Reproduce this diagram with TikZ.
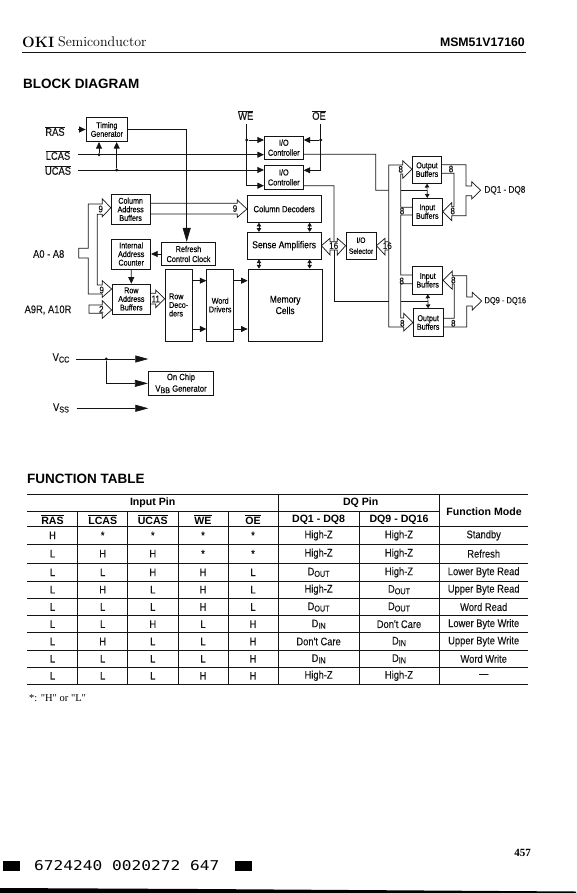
\documentclass[tikz,border=0pt]{standalone}
\usepackage{fontspec}
\usepackage{xcolor}
\usetikzlibrary{arrows.meta}
\newfontfamily\nsans[FakeStretch=0.85,FakeBold=0.15]{Liberation Sans}
\newfontfamily\hsans{Liberation Sans}
\newfontfamily\tserif{Liberation Serif}
\newfontfamily\barfont[FakeStretch=1.2]{DejaVu Sans Mono}
\definecolor{cInk}{RGB}{20,20,20}
\newcommand{\ovl}[1]{$\overline{\mbox{#1}}$}
\newcommand{\lowsub}[1]{\raisebox{-1.5pt}{\fontsize{8.5}{9}\selectfont #1}}
\newcommand{\stx}{\raisebox{-2.5pt}{*}}
\tikzset{
  blk/.style={draw=cInk,line width=0.8pt,inner sep=0pt,align=center,font=\nsans\fontsize{8.4}{8.6}\selectfont},
  blkb/.style={blk,font=\nsans\fontsize{9}{11}\selectfont},
  lab/.style={inner sep=0pt,text=cInk,font=\nsans\fontsize{11}{12}\selectfont},
  num/.style={inner sep=0pt,text=cInk,font=\nsans\fontsize{9.5}{10}\selectfont},
  wire/.style={draw=cInk,line width=0.7pt},
  bus/.style={draw=cInk,line width=0.7pt,line join=miter},
  sarr/.style={wire,-{Triangle[length=6.5pt,width=6pt]}},
  larr/.style={wire,-{Triangle[length=13pt,width=7pt]}},
  bigarr/.style={wire,-{Triangle[length=14pt,width=8pt]}},
  dbl/.style={wire,{Triangle[length=3.8pt,width=4.5pt]}-{Triangle[length=3.8pt,width=4.5pt]}},
  dot/.style={circle,fill=cInk,inner sep=0pt,minimum size=3.2pt},
  head/.style={inner sep=0pt,text=black,font=\hsans\bfseries\fontsize{13.5}{14}\selectfont},
  hcell/.style={inner sep=0pt,text=black,font=\hsans\bfseries\fontsize{10.6}{12}\selectfont},
  cell/.style={inner sep=0pt,text=cInk,font=\nsans\fontsize{11}{12}\selectfont},
  grid/.style={draw=cInk,line width=0.8pt}
}
\begin{document}
\begin{tikzpicture}[x=1pt,y=-1pt]
\useasboundingbox (0,0) rectangle (576,893);
\node[anchor=west,inner sep=0pt,font=\bfseries\fontsize{15}{15}\selectfont] (oki) at (22,42) {OKI};
\node[anchor=west,inner sep=0pt,font=\fontsize{14}{15}\selectfont] (semi) at (58,42) {Semiconductor};
\node[head,anchor=east,font=\hsans\bfseries\fontsize{12.3}{14}\selectfont] (part) at (525,42) {MSM51V17160};
\draw[grid] (22,52) -- (526,52);
\node[head,anchor=west] (blockt) at (23,84) {BLOCK DIAGRAM};

\node[blk,minimum width=41.7pt,minimum height=24.4pt] (tg) at (106.85,129.5) {Timing\\Generator};
\node[blk,minimum width=38.7pt,minimum height=30pt] (colbuf) at (130.65,209.3) {Column\\Address\\Buffers};
\node[blk,minimum width=39pt,minimum height=30pt] (cntr) at (131.2,254) {Internal\\Address\\Counter};
\node[blk,minimum width=53.6pt,minimum height=23.4pt,font=\nsans\fontsize{8.6}{10}\selectfont] (rcc) at (188.5,254) {Refresh\\Control Clock};
\node[blk,minimum width=38.7pt,minimum height=30pt] (rowbuf) at (131.35,299) {Row\\Address\\Buffers};
\node[blk,minimum width=27.3pt,minimum height=72pt,align=left] (rowdec) at (178.65,305) {Row\\Deco-\\ders};
\node[blk,minimum width=27pt,minimum height=72pt] (wdrv) at (220.2,305) {Word\\Drivers};
\node[blkb,minimum width=73.7pt,minimum height=26.6pt] (coldec) at (284.15,209) {Column Decoders};
\node[blk,minimum width=73.7pt,minimum height=26.7pt,font=\nsans\fontsize{10}{11}\selectfont] (sense) at (284.15,245.65) {Sense Amplifiers};
\node[blk,minimum width=74.3pt,minimum height=72pt,font=\nsans\fontsize{10}{11.3}\selectfont] (mem) at (285.15,305) {Memory\\Cells};
\node[blk,minimum width=39pt,minimum height=23.3pt,font=\nsans\fontsize{8.6}{10}\selectfont] (ioa) at (283.8,147.65) {I/O\\Controller};
\node[blk,minimum width=39pt,minimum height=23.3pt,font=\nsans\fontsize{8.6}{10}\selectfont] (iob) at (283.8,177.35) {I/O\\Controller};
\node[blk,minimum width=30pt,minimum height=26.7pt,font=\nsans\fontsize{7.8}{11}\selectfont] (iosel) at (361,245.65) {I/O\\Selector};
\node[blk,minimum width=29.4pt,minimum height=27.3pt] (outa) at (427,169.65) {Output\\Buffers};
\node[blk,minimum width=30pt,minimum height=26.7pt] (ina) at (427.3,211.65) {Input\\Buffers};
\node[blk,minimum width=30pt,minimum height=27.3pt] (inb) at (427.7,280.35) {Input\\Buffers};
\node[blk,minimum width=29.7pt,minimum height=27.6pt] (outb) at (428.15,322.5) {Output\\Buffers};
\node[blkb,minimum width=65.4pt,minimum height=23.3pt,font=\nsans\fontsize{9}{11.6}\selectfont] (vbb) at (181,383.35) {On Chip\\V\lowsub{BB} Generator};

\node[lab] (rasl) at (55,131) {\ovl{RAS}};
\node[lab] (lcasl) at (58,155) {\ovl{LCAS}};
\node[lab] (ucasl) at (58,170) {\ovl{UCAS}};
\node[lab] (wel) at (245.7,115) {\ovl{WE}};
\node[lab] (oel) at (319,115) {\ovl{OE}};
\node[lab] (a0l) at (48.7,254) {A0 - A8};
\node[lab] (a9l) at (48,310) {A9R, A10R};
\node[lab] (vccl) at (61,358) {V\lowsub{CC}};
\node[lab] (vssl) at (61,408) {V\lowsub{SS}};
\node[lab,anchor=west,font=\nsans\fontsize{9.6}{12}\selectfont] (dqal) at (484.3,190.3) {DQ1 - DQ8};
\node[lab,anchor=west,font=\nsans\fontsize{8.8}{12}\selectfont] (dqbl) at (484.3,301) {DQ9 - DQ16};

\coordinate (rasin) at (78,129.5);
\coordinate (lcasin) at (78,154.7);
\coordinate (ucasin) at (78,170);
\coordinate (tgdn) at (186.7,129.5);
\coordinate (wetop) at (246.7,124);
\coordinate (webot) at (246.7,185.7);
\coordinate (oetop) at (320.7,124);
\coordinate (oebot) at (320.7,170.3);
\node[dot] (jl) at (99,154.7) {};
\node[dot] (ju) at (116.7,170) {};
\node[dot] (jwe) at (246.7,140) {};
\node[dot] (joe) at (320.7,140) {};
\draw[sarr] (rasin) -- (tg.west);
\draw[sarr] (lcasin) -- (lcasin -| ioa.west);
\draw[sarr] (ucasin) -- (ucasin -| iob.west);
\draw[sarr] (jl) -- (jl |- tg.south);
\draw[sarr] (ju) -- (ju |- tg.south);
\draw[wire] (tg.east) -- (tgdn);
\draw[bigarr] (tgdn) -- (tgdn |- rcc.north);
\draw[sarr] (rcc.west) -- (cntr.east);
\draw[sarr] (cntr.south) -- (rowbuf.north);
\draw[wire] (wetop) -- (webot);
\draw[sarr] (jwe) -- (jwe -| ioa.west);
\draw[sarr] (webot) -- (webot -| iob.west);
\draw[wire] (oetop) -- (oebot);
\draw[sarr] (joe) -- (joe -| ioa.east);
\draw[sarr] (oebot) -- (oebot -| iob.east);

\draw[sarr] ([yshift=24.3pt]rowdec.east) -- ([yshift=24.3pt]wdrv.west);
\draw[sarr] ([yshift=-24pt]rowdec.east) -- ([yshift=-24pt]wdrv.west);
\draw[sarr] ([yshift=24.3pt]wdrv.east) -- ([yshift=24.3pt]mem.west);
\draw[sarr] ([yshift=-24pt]wdrv.east) -- ([yshift=-24pt]mem.west);
\draw[dbl] ([xshift=-25.2pt]coldec.south) -- ([xshift=-25.2pt]sense.north);
\draw[dbl] ([xshift=25.5pt]coldec.south) -- ([xshift=25.5pt]sense.north);
\draw[dbl] ([xshift=-25.2pt]sense.south) -- ([xshift=-26.2pt]mem.north);
\draw[dbl] ([xshift=25.5pt]sense.south) -- ([xshift=24.5pt]mem.north);
\draw[dbl] (outa.south) -- (ina.north);
\draw[dbl] (inb.south) -- (outb.north);

\draw[bus] ([yshift=6pt]colbuf.east) -- (237.3,203.3) -- (237.3,200) -- (coldec.west) -- (237.3,217.3) -- (237.3,214) -- ([yshift=-4.7pt]colbuf.east);
\draw[bus] (78.7,248.3) -- (88.3,248.3) -- (88.3,204) -- (102.3,204) -- (102.3,199) -- ([yshift=1.6pt]colbuf.west) -- (102.3,216.7) -- (102.3,214.3) -- (97.3,214.3) -- (97.3,285) -- (102.3,285) -- (102.3,280.7) -- ([yshift=10pt]rowbuf.west) -- (102.3,297.3) -- (102.3,294) -- (88.3,294) -- (88.3,258) -- (78.7,258) -- cycle;
\draw[bus] (89,305) -- (102.3,305) -- (102.3,300.7) -- ([yshift=-11pt]rowbuf.west) -- (102.3,318.3) -- (102.3,313.3) -- (89,313.3) -- cycle;
\draw[bus] ([yshift=5.7pt]rowbuf.east) -- (155.7,293.3) -- (155.7,290) -- ([yshift=6.3pt]rowdec.west) -- (155.7,307.7) -- (155.7,304) -- ([yshift=-5pt]rowbuf.east);
\draw[bus] (sense.east) -- (330,238.3) -- (330,241.7) -- (337.3,241.7) -- (337.3,238.3) -- (iosel.west) -- (337.3,255) -- (337.3,250) -- (330,250) -- (330,255) -- cycle;
\draw[bus] (388.7,241.7) -- (385,241.7) -- (385,238.3) -- (iosel.east) -- (385,255) -- (385,250) -- (388.7,250);
\draw[bus] ([yshift=0.4pt]outa.west) -- (402.7,160.7) -- (402.7,165) -- (388.7,165) -- (388.7,327) -- (403.7,327) -- (403.7,331) -- (outb.west) -- (403.7,313.3) -- (403.7,318) -- (400.7,318) -- (400.7,283.7) -- ([yshift=-3.3pt]inb.west);
\draw[bus] ([yshift=5.3pt]inb.west) -- (400.7,275) -- (400.7,215) -- ([yshift=-3.3pt]ina.west);
\draw[bus] ([yshift=4.3pt]ina.west) -- (400.7,207.3) -- (400.7,174) -- (402.7,174) -- (402.7,178.3) -- ([yshift=0.4pt]outa.west);
\draw[bus] ([yshift=5pt]outa.east) -- (466,164.7) -- (466,186) -- (471.7,186) -- (471.7,181.7) -- (480.7,190.3) -- (471.7,199) -- (471.7,195.7) -- (466,195.7) -- (466,215.7) -- (451.7,215.7) -- (451.7,220.7) -- (ina.east) -- (451.7,202.7) -- (451.7,206.7) -- (454,206.7) -- (454,173.3) -- ([yshift=-3.6pt]outa.east);
\draw[bus] ([yshift=-4.5pt]outb.east) -- (466.7,327) -- (466.7,306) -- (472.3,306) -- (472.3,310) -- (481.7,301) -- (472.3,292.3) -- (472.3,297) -- (466.7,297) -- (466.7,275.7) -- (452.3,275.7) -- (452.3,271) -- (inb.east) -- (452.3,289.3) -- (452.3,284) -- (454.3,284) -- (454.3,318.3) -- ([yshift=4.2pt]outb.east);

\draw[wire] ([yshift=-6.6pt]ioa.east) -- (375.7,154.3) -- (375.7,190.3) -- (388.7,190.3);
\draw[wire] (400.7,190.3) -- (426.7,190.3);
\draw[wire] ([yshift=-8.3pt]iob.east) -- (334,185.7) -- (334,241.7);
\draw[wire] (334,250) -- (334,301) -- (388.7,301);
\draw[wire] (400.7,301) -- (427.7,301);

\node[num] (n9a) at (100.7,209) {9};
\node[num] (n9b) at (235,208.5) {9};
\node[num] (n9c) at (101.7,290) {9};
\node[num] (n2) at (101.3,309.3) {2};
\node[num] (n11) at (155.7,299) {11};
\node[num] (n16a) at (333.7,245.7) {16};
\node[num] (n16b) at (387.3,245.7) {16};
\node[num] (n8a) at (400.7,169.3) {8};
\node[num] (n8b) at (402,211) {8};
\node[num] (n8c) at (401.7,281) {8};
\node[num] (n8d) at (402.3,323.3) {8};
\node[num] (n8e) at (451,169) {8};
\node[num] (n8f) at (452.7,211) {8};
\node[num] (n8g) at (453.3,280) {8};
\node[num] (n8h) at (453.3,323.3) {8};

\coordinate (vccin) at (76,359);
\coordinate (vccout) at (148.3,359);
\coordinate (vssin) at (76.7,408.3);
\coordinate (vssout) at (148.3,408.3);
\node[dot] (jv) at (106.3,359) {};
\draw[larr] (vccin) -- (vccout);
\draw[larr] (vssin) -- (vssout);
\draw[larr] (jv) |- (vbb.west);

\node[head,anchor=west] (funct) at (27,479) {FUNCTION TABLE};
\draw[grid] (27.3,494.3) -- (528,494.3);
\draw[grid] (27.3,511.7) -- (439,511.7);
\foreach \ry in {526.7,544,563,581,598.3,615.7,632.7,650.3,667.3,684.3}
  \draw[grid] (27.3,\ry) -- (528,\ry);
\foreach \cx in {77.7,127.7,178,228}
  \draw[grid] (\cx,511.7) -- (\cx,684.3);
\draw[grid] (278,494.3) -- (278,684.3);
\draw[grid] (359.3,511.7) -- (359.3,684.3);
\draw[grid] (439,494.3) -- (439,684.3);
\node[hcell] (hinp) at (152.7,503) {Input Pin};
\node[hcell] (hdq) at (360.7,503) {DQ Pin};
\node[hcell] (hfm) at (484,512) {Function Mode};
\node[hcell] (hras) at (52.5,519.5) {\ovl{RAS}};
\node[hcell] (hlcas) at (102.7,519.5) {\ovl{LCAS}};
\node[hcell] (hucas) at (152.8,519.5) {\ovl{UCAS}};
\node[hcell] (hwe) at (203,519.5) {\ovl{WE}};
\node[hcell] (hoe) at (253,519.5) {\ovl{OE}};
\node[hcell] (hdqa) at (318.6,519.5) {DQ1 - DQ8};
\node[hcell] (hdqb) at (399,519.5) {DQ9 - DQ16};
\foreach[count=\rn] \rowy/\ras/\lc/\uc/\wen/\oen/\dqa/\dqb/\fnm in {
  535.4/H/\stx/\stx/\stx/\stx/High-Z/High-Z/Standby,
  553.7/L/H/H/\stx/\stx/High-Z/High-Z/Refresh,
  572.3/L/L/H/H/L/D\lowsub{OUT}/High-Z/Lower Byte Read,
  589.7/L/H/L/H/L/High-Z/D\lowsub{OUT}/Upper Byte Read,
  607/L/L/L/H/L/D\lowsub{OUT}/D\lowsub{OUT}/Word Read,
  624.2/L/L/H/L/H/D\lowsub{IN}/Don't Care/Lower Byte Write,
  641.5/L/H/L/L/H/Don't Care/D\lowsub{IN}/Upper Byte Write,
  658.8/L/L/L/L/H/D\lowsub{IN}/D\lowsub{IN}/Word Write,
  675.8/L/L/L/H/H/High-Z/High-Z/\textemdash}{
  \node[cell] (t\rn-a) at (52.5,\rowy) {\ras};
  \node[cell] (t\rn-b) at (102.7,\rowy) {\lc};
  \node[cell] (t\rn-c) at (152.8,\rowy) {\uc};
  \node[cell] (t\rn-d) at (203,\rowy) {\wen};
  \node[cell] (t\rn-e) at (253,\rowy) {\oen};
  \node[cell] (t\rn-f) at (318.6,\rowy) {\dqa};
  \node[cell] (t\rn-g) at (399,\rowy) {\dqb};
  \node[cell] (t\rn-h) at (483.7,\rowy) {\fnm};
}
\node[anchor=west,inner sep=0pt,font=\tserif\fontsize{10.5}{12}\selectfont] (fnote) at (29,698) {*: "H" or "L"};

\node[anchor=east,inner sep=0pt,font=\tserif\bfseries\fontsize{11}{12}\selectfont] (pgno) at (531,853) {457};
\fill[black] (3,861) rectangle (20,871);
\node[anchor=west,inner sep=0pt,font=\barfont\fontsize{13.5}{14}\selectfont] (barc) at (34,866) {6724240 0020272 647};
\fill[black] (235,861) rectangle (252,871);
\fill[black] (0,888) -- (200,889) -- (576,891.5) -- (576,893) -- (0,893) -- cycle;
\end{tikzpicture}
\end{document}
